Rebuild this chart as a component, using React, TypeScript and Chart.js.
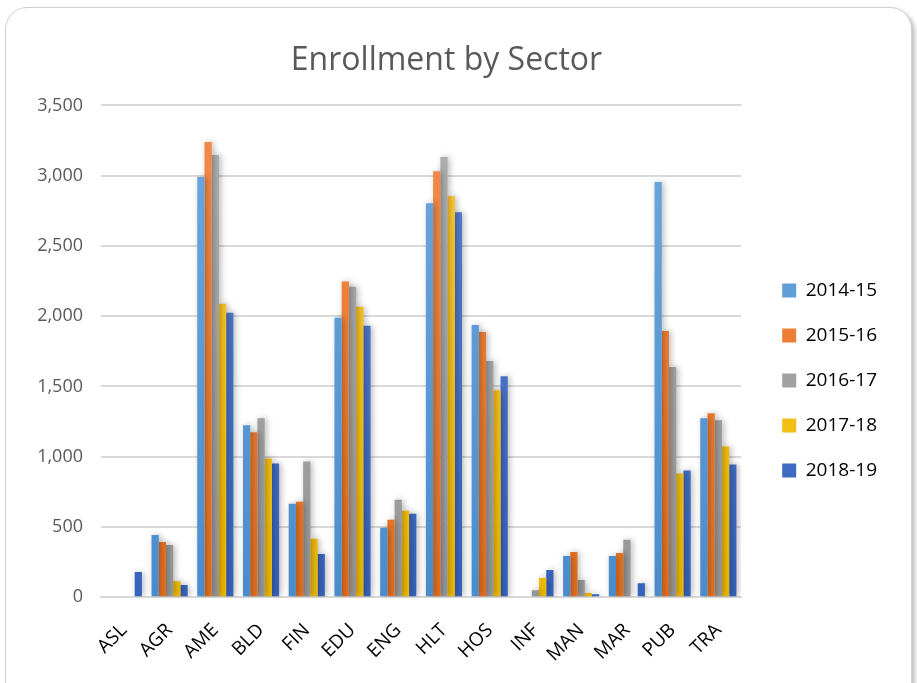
import React, { useEffect, useRef } from "react";
import { Chart, registerables } from "chart.js";

Chart.register(...registerables);

const categories = ["ASL", "AGR", "AME", "BLD", "FIN", "EDU", "ENG", "HLT", "HOS", "INF", "MAN", "MAR", "PUB", "TRA"];
const y2014 = [0, 443, 2990, 1223, 665, 1988, 494, 2804, 1938, 0, 293, 293, 2954, 1273];
const y2015 = [0, 393, 3240, 1173, 679, 2246, 551, 3032, 1888, 0, 322, 315, 1895, 1309];
const y2016 = [0, 372, 3147, 1273, 966, 2210, 694, 3133, 1681, 50, 122, 408, 1638, 1259];
const y2017 = [0, 114, 2088, 987, 415, 2067, 615, 2854, 1473, 136, 29, 0, 880, 1073];
const y2018 = [179, 86, 2024, 951, 308, 1931, 594, 2739, 1573, 193, 21, 100, 901, 944];
const seriesNames = ["2014-15", "2015-16", "2016-17", "2017-18", "2018-19"];
const seriesColors = [
  ["#6EA9DE", "#4A8CCB"],
  ["#F38B4A", "#E46F1E"],
  ["#B0B0B0", "#969696"],
  ["#FFC93A", "#EDB800"],
  ["#5A83D0", "#3563BC"],
];

export default function App() {
  const ref = useRef<HTMLCanvasElement | null>(null);
  useEffect(() => {
    if (!ref.current) return;
    const values = [y2014, y2015, y2016, y2017, y2018];
    const shadow = {
      id: "barShadow",
      beforeDatasetsDraw(chart: any) {
        const c = chart.ctx;
        c.save();
        c.shadowColor = "rgba(0,0,0,0.28)";
        c.shadowBlur = 6;
        c.shadowOffsetX = 2;
        c.shadowOffsetY = 0;
      },
      afterDatasetsDraw(chart: any) {
        chart.ctx.restore();
      },
    };
    const chart = new Chart(ref.current, {
      type: "bar",
      data: {
        labels: categories,
        datasets: seriesNames.map((name, i) => ({
          label: name,
          data: values[i],
          borderWidth: 0,
          yAxisID: "y",
          backgroundColor: (ctx: any) => {
            const area = ctx.chart.chartArea;
            if (!area) return seriesColors[i][0];
            const g = ctx.chart.ctx.createLinearGradient(0, area.top, 0, area.bottom);
            g.addColorStop(0, seriesColors[i][0]);
            g.addColorStop(1, seriesColors[i][1]);
            return g;
          },
          categoryPercentage: 0.79,
          barPercentage: 1,
        })),
      },
      options: {
        animation: false,
        responsive: false,
        layout: { padding: { left: 0, right: 24, top: 26, bottom: 4 } },
        plugins: {
          title: {
            display: true,
            text: "Enrollment by Sector",
            color: "#595959",
            font: { family: "'Open Sans', sans-serif", size: 32, weight: "normal" },
            padding: { top: 8, bottom: 25 },
          },
          legend: {
            position: "right",
            title: {
              display: true,
              text: " ",
              font: { size: 1 },
              padding: { top: 46, bottom: 0 },
            },
            labels: {
              boxWidth: 14,
              boxHeight: 14,
              padding: 26,
              color: "#000000",
              font: { family: "'Open Sans', sans-serif", size: 19 },
            },
          },
          tooltip: { enabled: false },
        },
        scales: {
          x: {
            grid: { display: false },
            border: { display: true, color: "#d9d9d9", width: 2 },
            ticks: {
              color: "#000000",
              minRotation: 45,
              maxRotation: 45,
              font: { family: "'Open Sans', sans-serif", size: 19 },
              padding: 14,
            },
          },
          y: {
            min: 0,
            max: 3500,
            grid: { color: "#d9d9d9", lineWidth: 2, drawTicks: false },
            border: { display: false },
            afterFit: (s: any) => {
              s.width = 95;
            },
            ticks: {
              stepSize: 500,
              color: "#595959",
              padding: 18,
              font: { family: "'Open Sans', sans-serif", size: 18 },
              callback: (v: any) => Number(v).toLocaleString("en-US"),
            },
          },
          yRight: {
            position: "right",
            min: 0,
            max: 3500,
            grid: { display: false, drawOnChartArea: false },
            border: { display: false },
            ticks: { display: false },
            afterFit: (s: any) => {
              s.width = 15;
            },
          },
        },
      },
      plugins: [shadow],
    });
    return () => chart.destroy();
  }, []);
  return (
    <div
      style={{
        position: "fixed",
        left: 5,
        top: 7,
        width: 905,
        height: 700,
        border: "1.5px solid #d0d0d0",
        borderRadius: 22,
        boxShadow: "3px 3px 4px rgba(0,0,0,0.25)",
        background: "#ffffff",
        overflow: "hidden",
      }}
    >
      <canvas ref={ref} width={905} height={676} style={{ display: "block" }} />
    </div>
  );
}
